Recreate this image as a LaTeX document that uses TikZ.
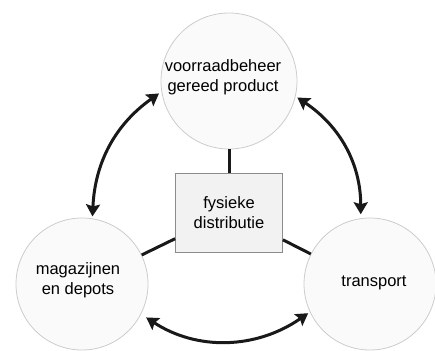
\documentclass[tikz,border=0pt]{standalone}
\usepackage{fontspec}
\setmainfont{Liberation Sans}
\usetikzlibrary{arrows.meta}
\begin{document}
\begin{tikzpicture}[x=1pt,y=-1pt,
  bubble/.style={circle, draw=black!20, fill=black!2, line width=0.8pt,
    inner sep=0pt, align=center, font=\fontsize{16.5}{20}\selectfont},
  centerbox/.style={rectangle, draw=black!45, fill=black!5, line width=0.8pt,
    minimum width=107pt, minimum height=79pt, align=center,
    font=\fontsize{16.5}{20}\selectfont},
  link/.style={line width=3pt, black!90},
  flow/.style={line width=3pt, black!90,
    {Stealth[length=12pt,width=14pt,inset=2pt]}-{Stealth[length=12pt,width=14pt,inset=2pt]}}
]
\useasboundingbox (0,0) rectangle (435,350);

% three process circles and the central box
\node[bubble, minimum size=136pt] (stock) at (229,81) {};
\node[font=\fontsize{16.5}{20}\selectfont, align=center] (stocktxt) at (223,77) {voorraadbeheer\\gereed product};
\node[bubble, minimum size=132pt] (store) at (82,284) {};
\node[font=\fontsize{16.5}{20}\selectfont, align=center] (storetxt) at (78,280) {magazijnen\\en depots};
\node[bubble, minimum size=132pt] (trans) at (370,284) {};
\node[font=\fontsize{16.5}{20}\selectfont, align=center] (transtxt) at (374,283) {transport};
\node[centerbox] (fd) at (229,212.5) {fysieke\\distributie};

% spokes from the central box
\draw[link] (stock) -- (fd);
\draw[link] (fd) -- (store);
\draw[link] (fd) -- (trans);

% two-way arrows between the circles
\draw[flow, shorten <=3pt, shorten >=2pt] (stock.189) to[bend right=26] (store.81);
\draw[flow, shorten <=2pt, shorten >=4pt] (stock.-13) to[bend left=28] (trans.98);
\draw[flow, shorten <=6pt, shorten >=2pt] (store.-27) to[bend right=34] (trans.205);
\end{tikzpicture}
\end{document}
